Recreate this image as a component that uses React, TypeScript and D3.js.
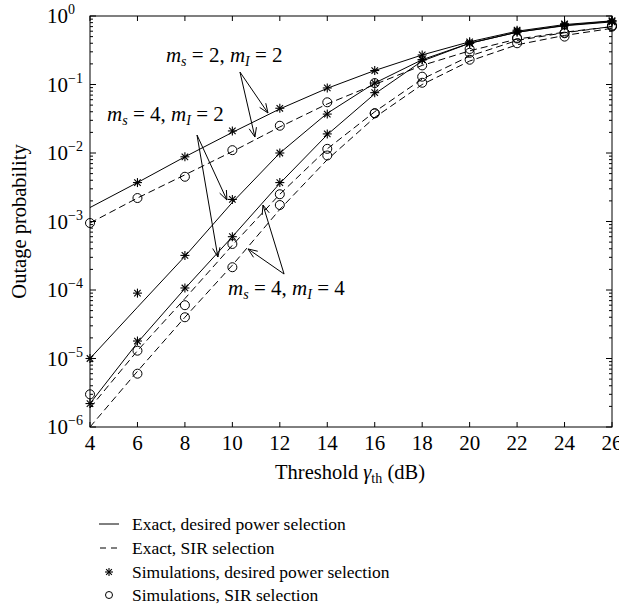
import React from 'react';
import {scaleLinear, scaleLog, line, range} from 'd3';

// threshold gamma_th in dB
const thresholdDb = [4, 6, 8, 10, 12, 14, 16, 18, 20, 22, 24, 26];

// exact, desired power selection (solid)
const exactPowerS2I2 = [1.6e-3, 3.7e-3, 8.8e-3, 2.0e-2, 4.4e-2, 8.8e-2, 0.16, 0.27, 0.42, 0.6, 0.75, 0.85];
const exactPowerS4I2 = [1.0e-5, 5.6e-5, 3.1e-4, 1.9e-3, 1.0e-2, 3.8e-2, 0.105, 0.23, 0.4, 0.58, 0.73, 0.84];
const exactPowerS4I4 = [2.2e-6, 1.7e-5, 1.05e-4, 6.0e-4, 3.6e-3, 1.85e-2, 7.3e-2, 0.22, 0.4, 0.58, 0.72, 0.82];

// exact, SIR selection (dashed)
const exactSirS2I2 = [9.5e-4, 2.2e-3, 4.8e-3, 1.05e-2, 2.4e-2, 5.2e-2, 0.1, 0.19, 0.31, 0.46, 0.58, 0.7];
const exactSirS4I2 = [1.9e-6, 1.3e-5, 7.5e-5, 4.5e-4, 2.5e-3, 1.15e-2, 4.0e-2, 0.12, 0.26, 0.44, 0.57, 0.7];
const exactSirS4I4 = [1.0e-6, 6.5e-6, 4.0e-5, 2.3e-4, 1.5e-3, 8.0e-3, 3.3e-2, 0.1, 0.22, 0.38, 0.52, 0.66];

// simulations (markers)
const simPowerS2I2 = [null, 3.7e-3, 8.8e-3, 2.1e-2, 4.5e-2, 8.9e-2, 0.16, 0.27, 0.42, 0.62, 0.77, 0.85];
const simPowerS4I2 = [1.0e-5, 9.0e-5, 3.2e-4, 2.1e-3, 1.0e-2, 3.7e-2, 0.105, 0.23, 0.4, 0.6, 0.75, 0.85];
const simPowerS4I4 = [2.2e-6, 1.8e-5, 1.07e-4, 6.0e-4, 3.7e-3, 1.9e-2, 7.6e-2, 0.23, 0.4, 0.58, 0.72, 0.82];
const simSirS2I2 = [9.5e-4, 2.2e-3, 4.5e-3, 1.1e-2, 2.5e-2, 5.5e-2, 0.105, 0.19, 0.33, 0.48, 0.57, 0.72];
const simSirS4I2 = [3.0e-6, 1.3e-5, 6.0e-5, 4.7e-4, 2.5e-3, 1.15e-2, 3.8e-2, 0.13, 0.29, 0.47, 0.56, 0.72];
const simSirS4I4 = [null, 6.0e-6, 4.0e-5, 2.15e-4, 1.74e-3, 9.2e-3, 3.8e-2, 0.106, 0.23, 0.4, 0.5, 0.7];

const xTicks = [4, 6, 8, 10, 12, 14, 16, 18, 20, 22, 24, 26];
const yTickExps = [0, -1, -2, -3, -4, -5, -6];

const legendItems = [
  'Exact, desired power selection',
  'Exact, SIR selection',
  'Simulations, desired power selection',
  'Simulations, SIR selection',
];

// annotation labels (ms, mI) and arrows, in data coordinates
const noteLabels = [
  {ms: '2', mi: '2', x: 7.2, y: 0.213},
  {ms: '4', mi: '2', x: 4.72, y: 0.0293},
  {ms: '4', mi: '4', x: 9.82, y: 8.45e-5},
];
const noteArrows = [
  {from: [10.32, 0.152], to: [11.5, 0.0384]},
  {from: [10.32, 0.152], to: [10.95, 0.0171]},
  {from: [8.51, 0.0183], to: [9.77, 2.06e-3]},
  {from: [8.51, 0.0183], to: [9.39, 3.03e-4]},
  {from: [12.18, 1.71e-4], to: [11.29, 1.74e-3]},
  {from: [12.18, 1.71e-4], to: [10.66, 3.97e-4]},
];

const FONT = '"Liberation Serif", "Times New Roman", serif';

const Star = ({cx, cy, r = 4.5}: {cx: number; cy: number; r?: number}) => {
  const d = r * 0.72;
  return (
    <g stroke="#000" strokeWidth={1.1}>
      <line x1={cx - r} y1={cy} x2={cx + r} y2={cy} />
      <line x1={cx} y1={cy - r} x2={cx} y2={cy + r} />
      <line x1={cx - d} y1={cy - d} x2={cx + d} y2={cy + d} />
      <line x1={cx - d} y1={cy + d} x2={cx + d} y2={cy - d} />
    </g>
  );
};

const NoteText = ({x, y, ms, mi}: {x: number; y: number; ms: string; mi: string}) => (
  <text x={x} y={y} fontFamily={FONT} fontSize={21}>
    <tspan fontStyle="italic">m</tspan>
    <tspan fontStyle="italic" fontSize={14} dy={4}>s</tspan>
    <tspan dy={-4}>{` = ${ms}, `}</tspan>
    <tspan fontStyle="italic">m</tspan>
    <tspan fontStyle="italic" fontSize={14} dy={4}>I</tspan>
    <tspan dy={-4}>{` = ${mi}`}</tspan>
  </text>
);

export default function App() {
  const W = 619, H = 614;
  const left = 90, right = 612, top = 16, bottom = 427;

  const x = scaleLinear().domain([4, 26]).range([left, right]);
  const y = scaleLog().domain([1e-6, 1]).range([bottom, top]);

  const path = line<number | null>()
    .defined(d => d != null)
    .x((d, i) => x(thresholdDb[i]))
    .y(d => y(d as number));

  const solid = [exactPowerS2I2, exactPowerS4I2, exactPowerS4I4];
  const dashed = [exactSirS2I2, exactSirS4I2, exactSirS4I4];
  const stars = [simPowerS2I2, simPowerS4I2, simPowerS4I4];
  const circles = [simSirS2I2, simSirS4I2, simSirS4I4];

  const minorTicks: number[] = [];
  yTickExps.slice(0, -1).forEach(e => {
    range(2, 10).forEach(k => minorTicks.push(k * Math.pow(10, e - 1)));
  });

  const legendX = 99;
  const legendY = [530, 554, 578, 601];

  return (
    <svg width={W} height={H} style={{position: 'absolute', left: 0, top: 0, background: '#fff'}}>
      {/* curves */}
      <g fill="none" stroke="#000" strokeWidth={1}>
        {solid.map((s, i) => <path key={'s' + i} d={path(s) || ''} />)}
        {dashed.map((s, i) => <path key={'d' + i} d={path(s) || ''} strokeDasharray="7,4" />)}
      </g>
      {stars.map((s, i) =>
        s.map((v, j) => v == null ? null : <Star key={`st${i}-${j}`} cx={x(thresholdDb[j])} cy={y(v)} />)
      )}
      <g fill="none" stroke="#000" strokeWidth={1}>
        {circles.map((s, i) =>
          s.map((v, j) => v == null ? null : <circle key={`c${i}-${j}`} cx={x(thresholdDb[j])} cy={y(v)} r={4.5} />)
        )}
      </g>

      {/* frame and ticks */}
      <rect x={left} y={top} width={right - left} height={bottom - top} fill="none" stroke="#000" strokeWidth={1} />
      <g stroke="#000" strokeWidth={1}>
        {xTicks.map(t => (
          <g key={'xt' + t}>
            <line x1={x(t)} x2={x(t)} y1={bottom} y2={bottom - 5} />
            <line x1={x(t)} x2={x(t)} y1={top} y2={top + 5} />
          </g>
        ))}
        {yTickExps.map(e => (
          <g key={'yt' + e}>
            <line x1={left} x2={left + 6} y1={y(Math.pow(10, e))} y2={y(Math.pow(10, e))} />
            <line x1={right} x2={right - 6} y1={y(Math.pow(10, e))} y2={y(Math.pow(10, e))} />
          </g>
        ))}
        {minorTicks.map((v, i) => (
          <g key={'mt' + i}>
            <line x1={left} x2={left + 3} y1={y(v)} y2={y(v)} />
            <line x1={right} x2={right - 3} y1={y(v)} y2={y(v)} />
          </g>
        ))}
      </g>

      {/* tick labels */}
      <g fontFamily={FONT} fontSize={21} fill="#000">
        {xTicks.map(t => (
          <text key={'xl' + t} x={x(t)} y={bottom + 23} textAnchor="middle">{t}</text>
        ))}
        {yTickExps.map(e => (
          <g key={'yl' + e}>
            <text x={left - 22} y={y(Math.pow(10, e)) + 7} textAnchor="end">10</text>
            <text x={left - 22} y={y(Math.pow(10, e)) - 2} fontSize={14}>{e === 0 ? '0' : `\u2212${-e}`}</text>
          </g>
        ))}
      </g>

      {/* axis titles */}
      <text x={350} y={479} textAnchor="middle" fontFamily={FONT} fontSize={20.5}>
        Threshold <tspan fontStyle="italic">γ</tspan><tspan fontSize={14} dy={4}>th</tspan><tspan dy={-4}> (dB)</tspan>
      </text>
      <text transform={`translate(26,${(top + bottom) / 2}) rotate(-90)`} textAnchor="middle" fontFamily={FONT} fontSize={20.5}>
        Outage probability
      </text>

      {/* annotations */}
      {noteLabels.map((n, i) => <NoteText key={'nl' + i} x={x(n.x)} y={y(n.y)} ms={n.ms} mi={n.mi} />)}
      <g stroke="#000" strokeWidth={1} fill="none">
        {noteArrows.map((a, i) => {
          const x1 = x(a.from[0]), y1 = y(a.from[1]);
          const x2 = x(a.to[0]), y2 = y(a.to[1]);
          const ang = Math.atan2(y2 - y1, x2 - x1);
          const hl = 10, ha = 0.38;
          const p1 = [x2 - hl * Math.cos(ang - ha), y2 - hl * Math.sin(ang - ha)];
          const p2 = [x2 - hl * Math.cos(ang + ha), y2 - hl * Math.sin(ang + ha)];
          return (
            <g key={'na' + i}>
              <line x1={x1} y1={y1} x2={x2} y2={y2} />
              <polyline points={`${p1[0]},${p1[1]} ${x2},${y2} ${p2[0]},${p2[1]}`} />
            </g>
          );
        })}
      </g>

      {/* legend */}
      <g fontFamily={FONT} fontSize={17.5}>
        {legendItems.map((t, i) => (
          <text key={'lg' + i} x={legendX + 33} y={legendY[i]}>{t}</text>
        ))}
      </g>
      <g stroke="#000" strokeWidth={1} fill="none">
        <line x1={legendX} x2={legendX + 20} y1={legendY[0] - 6} y2={legendY[0] - 6} />
        <line x1={legendX + 1} x2={legendX + 20} y1={legendY[1] - 6} y2={legendY[1] - 6} strokeDasharray="6,5" />
        <circle cx={legendX + 10} cy={legendY[3] - 6} r={3.5} />
      </g>
      <Star cx={legendX + 10} cy={legendY[2] - 6} r={4} />
    </svg>
  );
}
